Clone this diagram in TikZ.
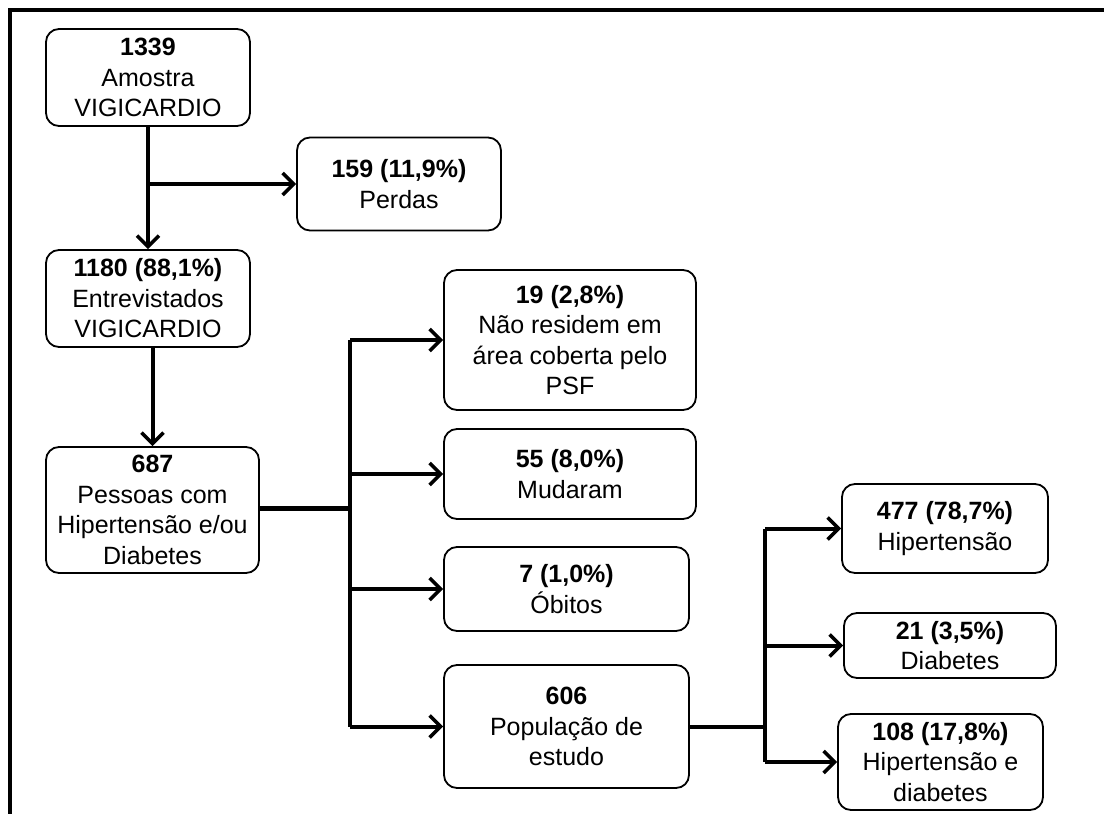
\documentclass[tikz,border=0pt]{standalone}
\usepackage{fontspec}
\setmainfont{Liberation Sans}
\usetikzlibrary{arrows.meta}
\tikzset{
  box/.style={draw, line width=1.8pt, rounded corners=13pt, align=center, inner sep=0pt,
    font=\fontsize{25}{30.5}\selectfont},
  conn/.style={line width=4pt},
  arr/.style={conn, -{Straight Barb[length=11pt,width=22pt,line width=3.6pt]}},
  frame/.style={line width=4pt}
}
\begin{document}
\begin{tikzpicture}[x=1pt,y=-1pt]
\useasboundingbox (0,0) rectangle (1104,814);
\coordinate (ftr) at (1104,10);
\coordinate (ftl) at (10,10);
\coordinate (fbl) at (10,814);
\draw[frame] (ftr) -- (ftl) -- (fbl);

\node[box, minimum width=204pt, minimum height=97pt] (A) at (148,77.5) {\textbf{1339}\\Amostra\\VIGICARDIO};
\node[box, minimum width=204pt, minimum height=93pt] (P) at (399,184) {\textbf{159 (11,9\%)}\\Perdas};
\node[box, minimum width=204pt, minimum height=97pt] (B) at (148,298.5) {\textbf{1180 (88,1\%)}\\Entrevistados\\VIGICARDIO};
\node[box, minimum width=213pt, minimum height=126pt] (C) at (152.5,510) {\textbf{687}\\Pessoas com\\Hipertensão e/ou\\Diabetes};
\node[box, minimum width=252pt, minimum height=140pt] (D) at (570,340) {\textbf{19 (2,8\%)}\\Não residem em\\área coberta pelo\\PSF};
\node[box, minimum width=252pt, minimum height=90pt] (E) at (570,474) {\textbf{55 (8,0\%)}\\Mudaram};
\node[box, minimum width=245pt, minimum height=84pt] (F) at (566.5,589) {\textbf{7 (1,0\%)}\\Óbitos};
\node[box, minimum width=245pt, minimum height=123pt] (G) at (566.5,726.5) {\textbf{606}\\População de\\estudo};
\node[box, minimum width=206pt, minimum height=89pt] (H) at (945,528.5) {\textbf{477 (78,7\%)}\\Hipertensão};
\node[box, minimum width=212pt, minimum height=65pt] (I) at (950,645.5) {\textbf{21 (3,5\%)}\\Diabetes};
\node[box, minimum width=205pt, minimum height=96pt] (J) at (940.5,762) {\textbf{108 (17,8\%)}\\Hipertensão e\\diabetes};

% A -> P and A -> B
\coordinate (pa) at (A.south |- P.west);
\draw[conn] (A.south) -- (pa);
\draw[arr] (pa) -- (P.west);
\draw[arr] (pa) -- (B.north);

% B -> C
\draw[arr] (B.south -| C.north) -- (C.north);

% C -> trunk
\coordinate (t1) at (350,508);
\coordinate (t1top) at (t1 |- D.west);
\coordinate (t1bot) at (t1 |- G.west);
\draw[line width=5pt] (C.east |- t1) -- (t1);
\draw[conn] (t1top) -- (t1bot);
\draw[arr] (t1top) -- (D.west);
\draw[arr] (t1 |- E.west) -- (E.west);
\draw[arr] (t1 |- F.west) -- (F.west);
\draw[arr] (t1bot) -- (G.west);

% G -> trunk2
\coordinate (t2) at (765,726.5);
\coordinate (t2top) at (t2 |- H.west);
\coordinate (t2bot) at (t2 |- J.west);
\draw[conn] (G.east) -- (t2);
\draw[conn] (t2top) -- (t2bot);
\draw[arr] (t2top) -- (H.west);
\draw[arr] (t2 |- I.west) -- (I.west);
\draw[arr] (t2bot) -- (J.west);
\end{tikzpicture}
\end{document}
